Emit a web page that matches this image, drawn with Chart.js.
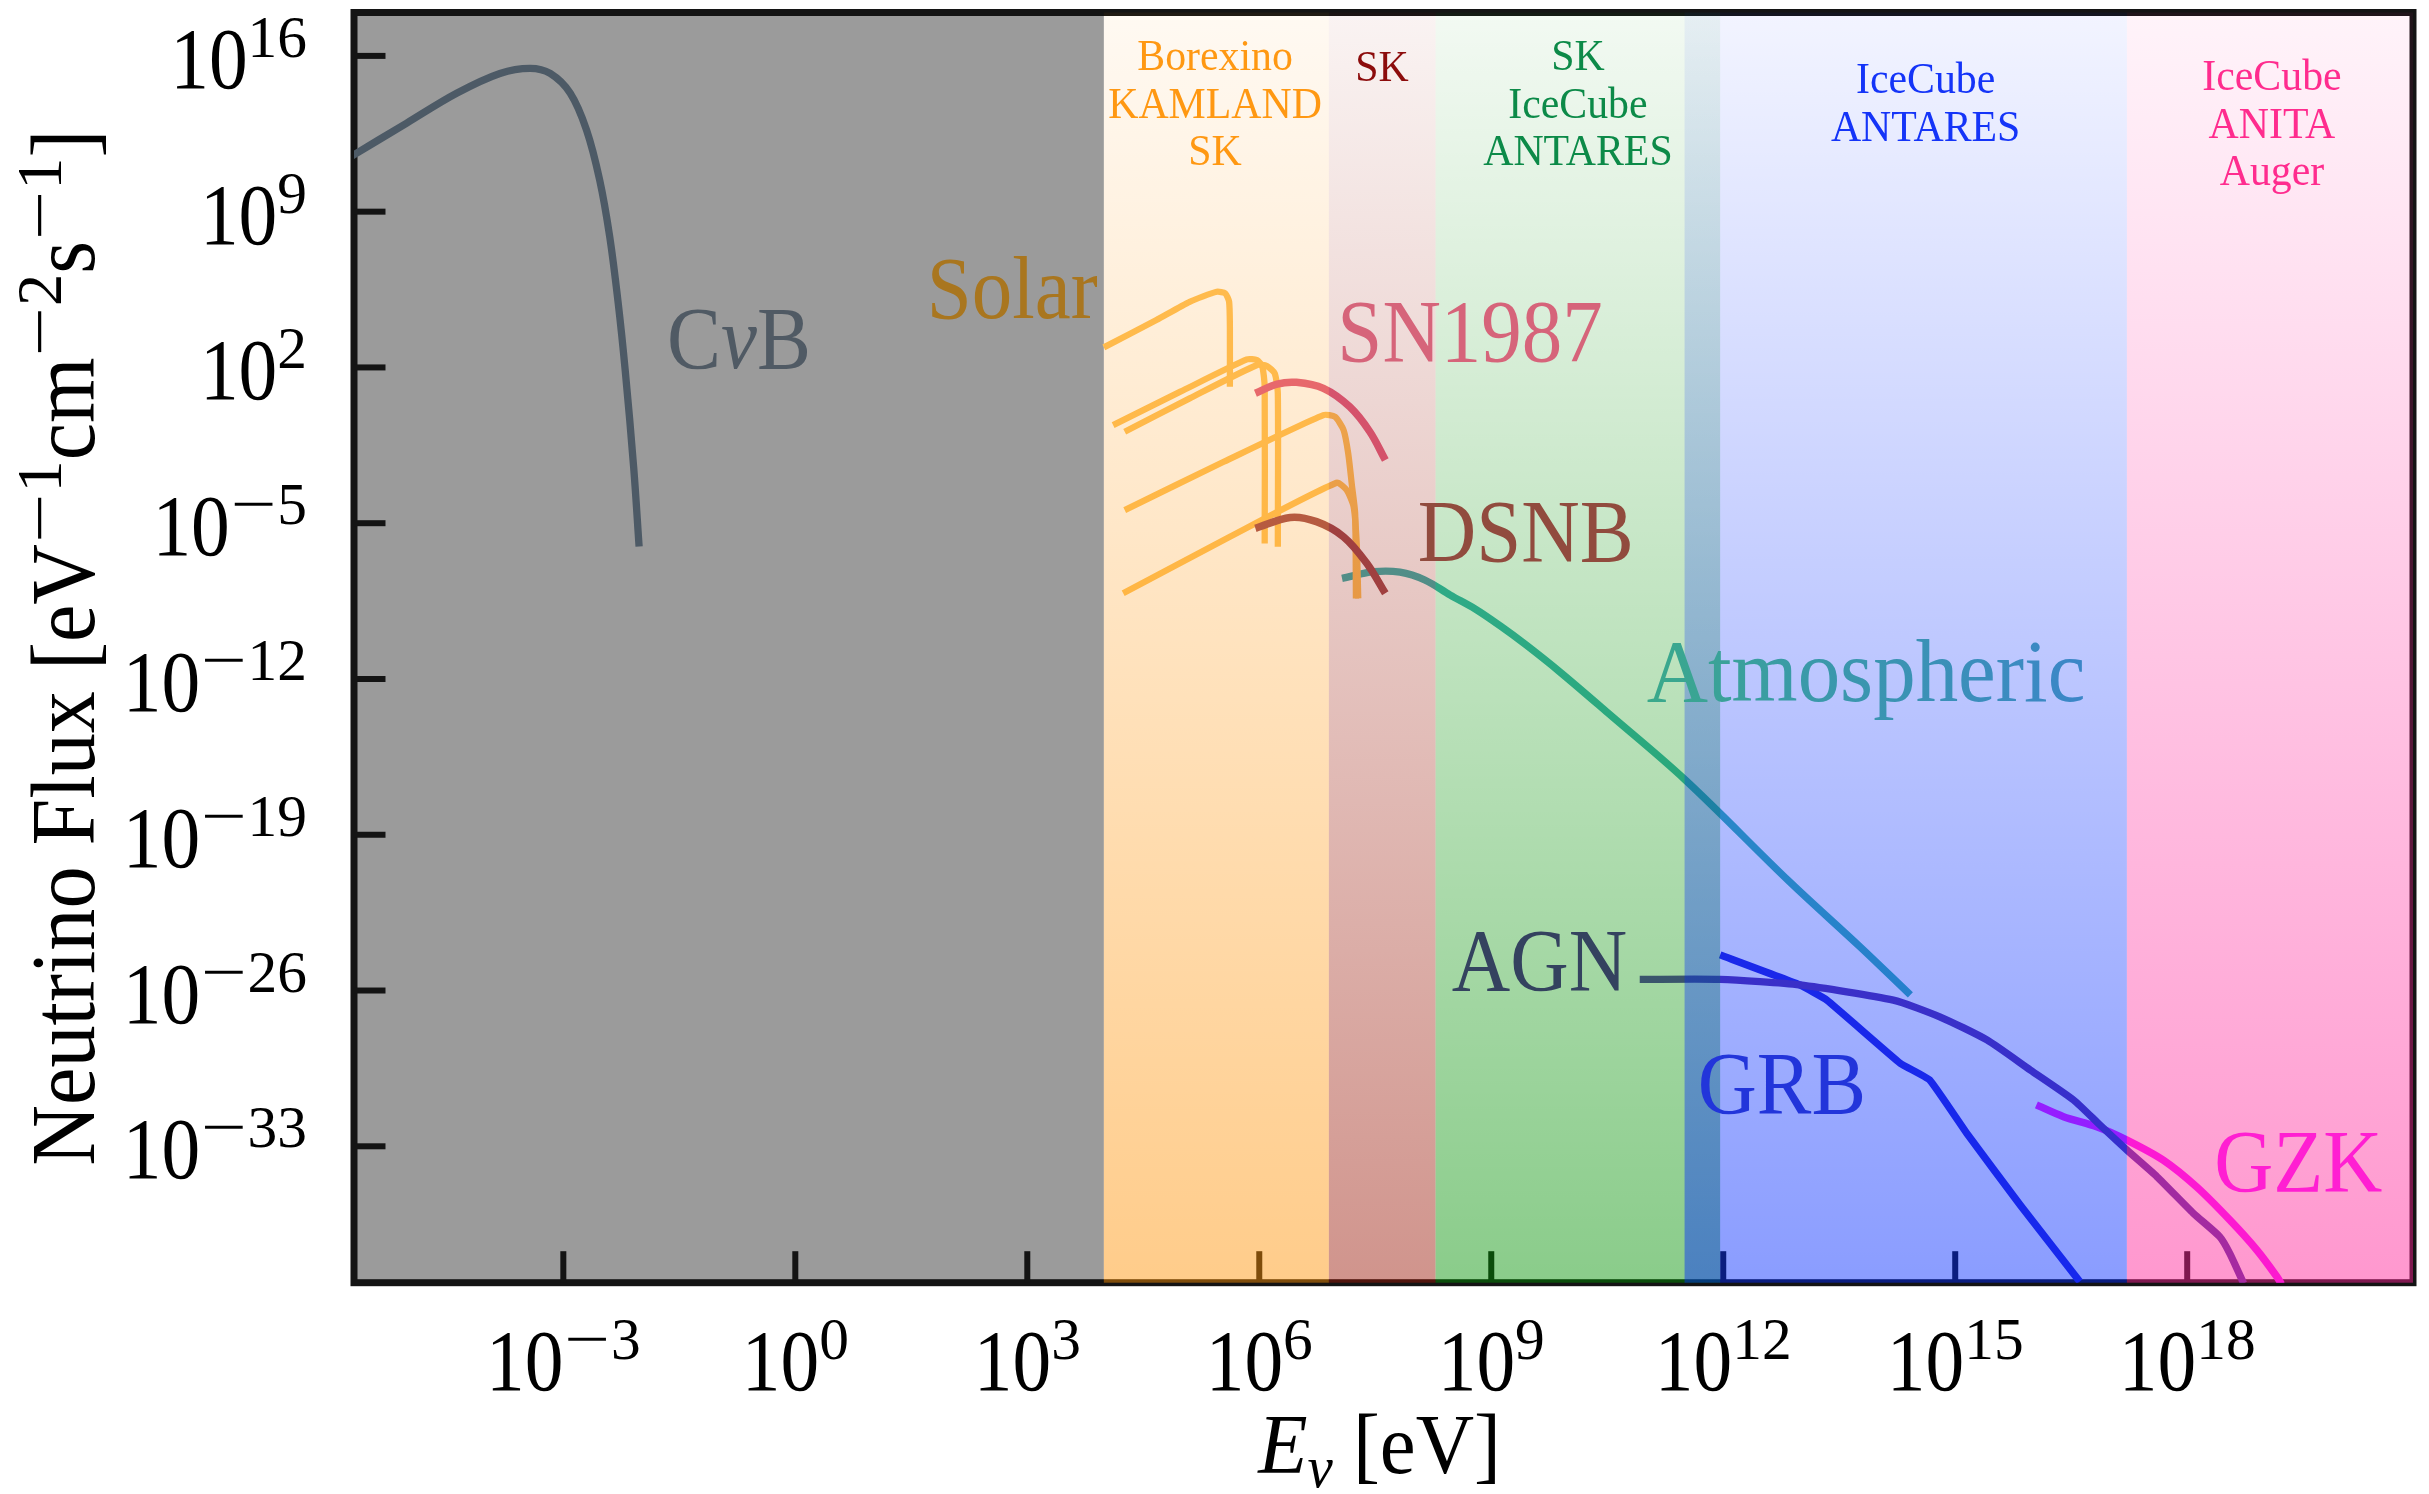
<!DOCTYPE html>
<html>
<head>
<meta charset="utf-8">
<title>Neutrino flux spectrum</title>
<script src="https://cdn.jsdelivr.net/npm/chart.js@4.4.1/dist/chart.umd.min.js"></script>
<style>
  html, body { margin: 0; padding: 0; background: #fff; }
  canvas { display: block; }
</style>
</head>
<body>
<canvas id="flux" width="2429" height="1494"></canvas>
<script>
// ---- axis extents and ticks (log10 of E in eV, log10 of flux) ----
const xLogRange = [-5.707, 20.92];
const yLogRange = [-39.13, 17.95];
const xTickExps = [-3, 0, 3, 6, 9, 12, 15, 18];
const yTickExps = [16, 9, 2, -5, -12, -19, -26, -33];

// ---- spectra: log10(E / eV) and log10(flux / eV^-1 cm^-2 s^-1) ----
const cnbLogE = [-5.75, -5.03, -4.38, -3.82, -3.43, -3.17, -2.91, -2.70, -2.53, -2.40, -2.29, -2.20, -2.09, -2.02];
const cnbLogF = [11.47, 12.97, 14.32, 15.21, 15.44, 15.21, 14.32, 12.67, 10.42, 7.87, 4.88, 1.88, -2.50, -6.05];

const ppLogE = [3.99, 4.67, 5.10, 5.45, 5.56, 5.61, 5.62, 5.62];
const ppLogF = [2.90, 4.13, 4.95, 5.40, 5.33, 4.95, 3.83, 1.13];

const n13LogE = [4.11, 4.98, 5.84, 5.97, 6.04, 6.07, 6.07];
const n13LogF = [-0.59, 0.91, 2.36, 2.33, 2.03, 1.13, -5.91];

const o15LogE = [4.26, 5.10, 5.97, 6.10, 6.20, 6.24, 6.24];
const o15LogF = [-0.89, 0.61, 2.11, 2.06, 1.73, 0.83, -6.06];

const b8LogE = [4.26, 5.54, 6.83, 6.98, 7.09, 7.15, 7.20, 7.24, 7.25];
const b8LogF = [-4.41, -2.24, -0.14, -0.22, -0.81, -1.86, -3.36, -4.56, -8.38];

const hepLogE = [4.24, 5.62, 7.00, 7.13, 7.22, 7.26, 7.28];
const hepLogF = [-8.15, -5.61, -3.18, -3.51, -4.26, -5.91, -8.38];

const sn1987LogE = [5.95, 6.23, 6.48, 6.83, 7.17, 7.43, 7.63];
const sn1987LogF = [0.84, 1.25, 1.33, 1.06, 0.23, -0.89, -2.16];

const dsnbLogE = [5.95, 6.40, 6.74, 7.09, 7.39, 7.63];
const dsnbLogF = [-5.23, -4.74, -4.93, -5.61, -6.80, -8.15];

const atmLogE = [7.07, 7.48, 7.82, 8.14, 8.47, 8.79, 9.11, 9.45, 9.89, 10.51, 11.51, 12.86, 13.77, 14.42];
const atmLogF = [-7.48, -7.18, -7.20, -7.55, -8.23, -8.85, -9.60, -10.47, -11.69, -13.53, -16.54, -21.12, -24.04, -26.20];

const agnLogE = [10.92, 11.96, 12.99, 14.20, 14.80, 15.41, 15.97, 16.53, 16.87, 17.22, 17.61, 18.08, 18.42, 18.55, 18.73];
const agnLogF = [-25.50, -25.50, -25.75, -26.43, -27.18, -28.22, -29.57, -30.92, -32.04, -33.17, -34.37, -36.01, -37.06, -37.81, -39.16];

const grbLogE = [11.96, 12.99, 13.34, 14.29, 14.67, 15.15, 15.84, 16.61];
const grbLogF = [-24.40, -25.75, -26.43, -29.27, -30.02, -32.42, -35.64, -39.08];

const gzkLogE = [16.05, 16.40, 16.83, 17.22, 17.69, 18.12, 18.55, 18.90, 19.16, 19.22];
const gzkLogF = [-31.14, -31.67, -32.12, -32.72, -33.62, -34.82, -36.31, -37.66, -38.86, -39.20];

// ---- detector sensitivity bands (log10 E edges) ----
const grayLogHi = 3.99;
const bandLogLo = [3.99, 6.90, 8.28, 11.50, 17.22];
const bandLogHi = [6.90, 8.28, 11.96, 17.22, 20.92];
const bandRGB = ['255,144,0', '153,22,5', '0,144,0', '0,40,255', '255,30,150'];

const detectorLines = [
  ['Borexino', 'KAMLAND', 'SK'],
  ['SK'],
  ['SK', 'IceCube', 'ANTARES'],
  ['IceCube', 'ANTARES'],
  ['IceCube', 'ANITA', 'Auger']
];
const detectorColors = ['#ff9812', '#8c0c0c', '#0c8a48', '#1434f8', '#ff2c8e'];
const detectorAtLogE = [5.428, 7.587, 10.121, 14.617, 19.096];
const detectorTopLogF = [15.36, 14.87, 15.36, 14.33, 14.46];

// ---- source names placed next to their curves ----
const sourceNames = ['CνB', 'Solar', 'SN1987', 'DSNB', 'Atmospheric', 'AGN', 'GRB', 'GZK'];
const sourceLabelLogE = [-1.66, 1.70, 7.01, 8.05, 11.01, 8.49, 11.67, 18.35];
const sourceLabelLogF = [1.97, 4.22, 2.29, -6.70, -12.99, -25.98, -31.50, -35.01];
const sourceLabelColors = ['#505a64', '#a9761f', '#d6647a', '#914b3e', null, '#34425f', '#2235da', '#ff1fd2'];
const sourceLabelSquash = [0.92, 0.92, 0.92, 0.92, 0.965, 0.92, 0.93, 0.93];

const FONT = '"Liberation Serif", "Times New Roman", serif';
const MINUS = '\u2212';

function toPoints(logE, logF) {
  return logE.map((e, i) => ({ x: Math.pow(10, e), y: Math.pow(10, logF[i]) }));
}

// drawing order: first entry ends up on top
const series = [
  { label: 'DSNB', e: dsnbLogE, f: dsnbLogF, color: '#a24c51', width: 7.5, tension: 0.35 },
  { label: 'SN1987', e: sn1987LogE, f: sn1987LogF, color: '#e26082', width: 7.5, tension: 0.35 },
  { label: 'AGN', e: agnLogE, f: agnLogF, color: '#5b34a9', width: 7.3, tension: 0.2 },
  { label: 'GRB', e: grbLogE, f: grbLogF, color: '#2828de', width: 7.3, tension: 0.1 },
  { label: 'GZK', e: gzkLogE, f: gzkLogF, color: '#fa17ff', width: 7.5, tension: 0.3 },
  { label: 'hep', e: hepLogE, f: hepLogF, color: '#ffc25a', width: 6.3, tension: 0.2 },
  { label: '8B', e: b8LogE, f: b8LogF, color: '#ffc25a', width: 6.3, tension: 0.2 },
  { label: '15O', e: o15LogE, f: o15LogF, color: '#ffc25a', width: 6.3, tension: 0.2 },
  { label: '13N', e: n13LogE, f: n13LogF, color: '#ffc25a', width: 6.3, tension: 0.2 },
  { label: 'pp', e: ppLogE, f: ppLogF, color: '#ffc25a', width: 6.3, tension: 0.2 },
  { label: 'Atmospheric', e: atmLogE, f: atmLogF, color: '#3cb2af', width: 7.3, tension: 0.35 },
  { label: 'CνB', e: cnbLogE, f: cnbLogF, color: '#4d5a66', width: 7.3, tension: 0.35 }
];

// ---- text helpers ----
function runAdvance(g, r) {
  g.font = r.font;
  return g.measureText(r.text).width * (r.stretch || 1) + (r.pad || 0);
}
function runsWidth(g, runs) {
  let w = 0;
  for (const r of runs) w += runAdvance(g, r);
  return w;
}
function drawRuns(g, runs, x, y, align, sx, fill) {
  g.save();
  g.translate(x, y);
  g.scale(sx, 1);
  g.textAlign = 'left';
  g.textBaseline = 'alphabetic';
  const w = runsWidth(g, runs);
  let cx = align === 'center' ? -w / 2 : (align === 'right' ? -w : 0);
  let style = fill;
  if (typeof fill === 'function') style = fill(g, cx, w);
  for (const r of runs) {
    g.font = r.font;
    g.fillStyle = r.color || style;
    const st = r.stretch || 1;
    g.save();
    g.translate(cx + (r.pad || 0) / 2, r.dy || 0);
    g.scale(st, 1);
    g.fillText(r.text, 0, 0);
    g.restore();
    cx += runAdvance(g, r);
  }
  g.restore();
}
// superscript exponent, minus drawn wide like a math minus
function expRuns(exp, font, dy) {
  const runs = [];
  if (exp < 0) runs.push({ text: MINUS, font, dy, stretch: 1.5, pad: 2 });
  runs.push({ text: String(Math.abs(exp)), font, dy, stretch: 1.1 });
  return runs;
}
function powerRuns(exp) {
  return [{ text: '10', font: `86px ${FONT}` }].concat(expRuns(exp, `60px ${FONT}`, -31));
}

const xPix = (chart, le) => chart.scales.x.getPixelForValue(Math.pow(10, le));
const yPix = (chart, lf) => chart.scales.y.getPixelForValue(Math.pow(10, lf));

const decor = {
  id: 'decor',
  beforeDraw(chart) {
    const g = chart.ctx;
    g.save();
    g.fillStyle = '#ffffff';
    g.fillRect(0, 0, chart.width, chart.height);
    g.restore();
  },
  beforeDatasetsDraw(chart) {
    const g = chart.ctx, a = chart.chartArea;
    g.save();
    // low-energy region left of the detector bands
    const xg = xPix(chart, grayLogHi);
    g.fillStyle = '#9b9b9b';
    g.fillRect(a.left, a.top, xg - a.left, a.bottom - a.top);
    // frame
    g.strokeStyle = '#141414';
    g.lineWidth = 7;
    g.strokeRect(a.left, a.top, a.right - a.left, a.bottom - a.top);
    // inward major ticks
    g.lineWidth = 6;
    g.lineCap = 'butt';
    for (const e of xTickExps) {
      const x = xPix(chart, e);
      g.beginPath(); g.moveTo(x, a.bottom); g.lineTo(x, a.bottom - 31.5); g.stroke();
    }
    for (const e of yTickExps) {
      const y = yPix(chart, e);
      g.beginPath(); g.moveTo(a.left, y); g.lineTo(a.left + 31.5, y); g.stroke();
    }
    g.restore();
  },
  afterDatasetsDraw(chart) {
    const g = chart.ctx, a = chart.chartArea;
    g.save();
    // detector bands: vertical fade from almost clear at the top to tinted at the bottom
    for (let i = 0; i < bandLogLo.length; i++) {
      const x0 = Math.max(xPix(chart, bandLogLo[i]), a.left);
      const x1 = Math.min(xPix(chart, bandLogHi[i]), a.right);
      const grad = g.createLinearGradient(0, a.top, 0, a.bottom);
      grad.addColorStop(0, `rgba(${bandRGB[i]},0.05)`);
      grad.addColorStop(1, `rgba(${bandRGB[i]},0.46)`);
      g.fillStyle = grad;
      g.fillRect(x0, a.top, x1 - x0, a.bottom - a.top);
    }

    // detector names
    for (let i = 0; i < detectorLines.length; i++) {
      const cx = xPix(chart, detectorAtLogE[i]);
      const y0 = yPix(chart, detectorTopLogF[i]);
      detectorLines[i].forEach((txt, k) => {
        drawRuns(g, [{ text: txt, font: `44px ${FONT}` }], cx, y0 + k * 47.5, 'center', 0.95, detectorColors[i]);
      });
    }

    // source names
    for (let i = 0; i < sourceNames.length; i++) {
      const x = xPix(chart, sourceLabelLogE[i]);
      const y = yPix(chart, sourceLabelLogF[i]);
      let runs;
      if (sourceNames[i] === 'CνB') {
        runs = [
          { text: 'C', font: `88px ${FONT}` },
          { text: 'ν', font: `italic 88px ${FONT}` },
          { text: 'B', font: `88px ${FONT}` }
        ];
      } else {
        runs = [{ text: sourceNames[i], font: `88px ${FONT}` }];
      }
      let fill = sourceLabelColors[i];
      if (fill === null) {
        fill = (ctx, x0, w) => {
          const lg = ctx.createLinearGradient(x0, 0, x0 + w, 0);
          lg.addColorStop(0, '#3aa98a');
          lg.addColorStop(0.35, '#3a9aa8');
          lg.addColorStop(1, '#3b86c8');
          return lg;
        };
      }
      drawRuns(g, runs, x, y, 'left', sourceLabelSquash[i], fill);
    }

    // tick labels
    for (const e of xTickExps) {
      drawRuns(g, powerRuns(e), xPix(chart, e), a.bottom + 107, 'center', 0.9, '#000');
    }
    for (const e of yTickExps) {
      drawRuns(g, powerRuns(e), a.left - 47, yPix(chart, e) + 32, 'right', 0.9, '#000');
    }

    // x title
    drawRuns(g, [
      { text: 'E', font: `italic 85px ${FONT}` },
      { text: 'ν', font: `italic 60px ${FONT}`, dy: 14 },
      { text: ' [eV]', font: `85px ${FONT}` }
    ], (a.left + a.right) / 2 - 4, a.bottom + 190, 'center', 0.95, '#000');

    // y title (rotated)
    g.save();
    g.translate(94, (a.top + a.bottom) / 2);
    g.rotate(-Math.PI / 2);
    const sup = `64px ${FONT}`, main = `92px ${FONT}`;
    drawRuns(g, [
      { text: 'Neutrino Flux [eV', font: main },
      ...expRuns(-1, sup, -33),
      { text: 'cm', font: main },
      ...expRuns(-2, sup, -33),
      { text: 's', font: main },
      ...expRuns(-1, sup, -33),
      { text: ']', font: main }
    ], 0, 0, 'center', 0.915, '#000');
    g.restore();

    g.restore();
  }
};

new Chart(document.getElementById('flux'), {
  type: 'scatter',
  data: {
    datasets: series.map(s => ({
      label: s.label,
      data: toPoints(s.e, s.f),
      showLine: true,
      borderColor: s.color,
      backgroundColor: s.color,
      borderWidth: s.width,
      pointRadius: 0,
      pointHoverRadius: 0,
      tension: s.tension,
      borderJoinStyle: 'round',
      borderCapStyle: 'butt',
      fill: false,
      clip: 0
    }))
  },
  options: {
    responsive: false,
    animation: false,
    events: [],
    layout: { padding: { left: 354, top: 12.5, right: 16, bottom: 211.3 } },
    plugins: { legend: { display: false }, tooltip: { enabled: false }, title: { display: false } },
    scales: {
      x: {
        type: 'logarithmic',
        display: false,
        bounds: 'data',
        min: Math.pow(10, xLogRange[0]),
        max: Math.pow(10, xLogRange[1])
      },
      y: {
        type: 'logarithmic',
        display: false,
        bounds: 'data',
        min: Math.pow(10, yLogRange[0]),
        max: Math.pow(10, yLogRange[1])
      }
    }
  },
  plugins: [decor]
});
</script>
</body>
</html>
